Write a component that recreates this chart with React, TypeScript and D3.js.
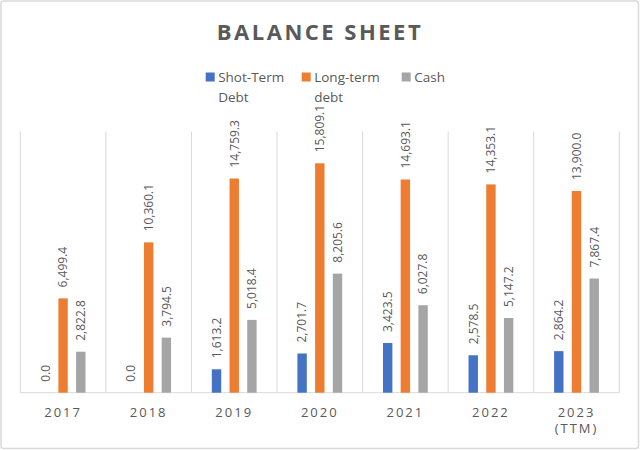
import React from "react";
import * as d3 from "d3";

const years = ["2017", "2018", "2019", "2020", "2021", "2022", "2023"];
const yearSub = ["", "", "", "", "", "", "(TTM)"];
const shortTermDebt = [0.0, 0.0, 1613.2, 2701.7, 3423.5, 2578.5, 2864.2];
const longTermDebt = [6499.4, 10360.1, 14759.3, 15809.1, 14693.1, 14353.1, 13900.0];
const cash = [2822.8, 3794.5, 5018.4, 8205.6, 6027.8, 5147.2, 7867.4];
const seriesNames = [["Shot-Term", "Debt"], ["Long-term", "debt"], ["Cash"]];
const colors = ["#4472C4", "#ED7D31", "#A5A5A5"];

const W = 640;
const H = 450;
const FONT = "'Open Sans', 'Liberation Sans', sans-serif";
const TEXT = "#595959";

export default function App() {
  const x = d3.scaleBand<string>().domain(years).range([20.3, 619.3]).padding(0);
  const y = d3.scaleLinear().domain([0, 18000]).range([392.7, 131.5]);
  const fmt = d3.format(",.1f");
  const series = [shortTermDebt, longTermDebt, cash];
  const step = 17.7;
  const bw = 9.4;

  const legendX = [205.7, 301.7, 401.7];

  return (
    <svg width={W} height={H} style={{ position: "absolute", left: 0, top: 0, display: "block" }}
      xmlns="http://www.w3.org/2000/svg">
      <rect x={0} y={0} width={W} height={H} fill="#fff" />
      <rect x={1} y={1} width={W - 2.5} height={H - 2.5} rx={3} fill="#fff" stroke="#d9d9d9" strokeWidth={1.5} />
      <text x={320} y={39.5} textAnchor="middle" fontFamily={FONT} fontWeight={700} fontSize={22}
        letterSpacing={2.5} fill={TEXT}>BALANCE SHEET</text>

      {/* legend */}
      {seriesNames.map((lines, i) => (
        <g key={i}>
          <rect x={legendX[i]} y={72.5} width={9} height={9} fill={colors[i]} />
          {lines.map((t, j) => (
            <text key={j} x={legendX[i] + 12.5} y={82 + j * 19.5} fontFamily={FONT} fontSize={13.5} fill={TEXT}>{t}</text>
          ))}
        </g>
      ))}

      {/* vertical category separators */}
      {d3.range(years.length + 1).map((i) => {
        const xx = i < years.length ? (x(years[i]) as number) : (x.range()[1] as number);
        return <line key={i} x1={xx} x2={xx} y1={y(18000)} y2={y(0)} stroke="#d9d9d9" strokeWidth={1} />;
      })}
      <line x1={x.range()[0]} x2={x.range()[1]} y1={y(0)} y2={y(0)} stroke="#d9d9d9" strokeWidth={1} />

      {/* bars */}
      {series.map((vals, si) => (
        <g key={si}>
          {vals.map((v, i) => {
            const cx = (x(years[i]) as number) + x.bandwidth() / 2 + (si - 1) * step;
            return (
              <rect key={i} x={cx - bw / 2} y={y(v)} width={bw} height={y(0) - y(v)} fill={colors[si]} />
            );
          })}
        </g>
      ))}

      {/* data labels */}
      {series.map((vals, si) => (
        <g key={si}>
          {vals.map((v, i) => {
            const cx = (x(years[i]) as number) + x.bandwidth() / 2 + (si - 1) * step;
            const ty = y(v) - 11;
            return (
              <text key={i} transform={`translate(${cx},${ty}) rotate(-90)`} dy="0.36em" textAnchor="start"
                fontFamily={FONT} fontSize={12} fill={TEXT}>{fmt(v)}</text>
            );
          })}
        </g>
      ))}

      {/* x axis labels */}
      {years.map((yr, i) => {
        const cx = (x(yr) as number) + x.bandwidth() / 2;
        return (
          <g key={yr}>
            <text x={cx} y={416.5} textAnchor="middle" fontFamily={FONT} fontSize={13} letterSpacing={2}
              fill={TEXT}>{yr}</text>
            {yearSub[i] && (
              <text x={cx} y={433} textAnchor="middle" fontFamily={FONT} fontSize={13} letterSpacing={2}
                fill={TEXT}>{yearSub[i]}</text>
            )}
          </g>
        );
      })}
    </svg>
  );
}
